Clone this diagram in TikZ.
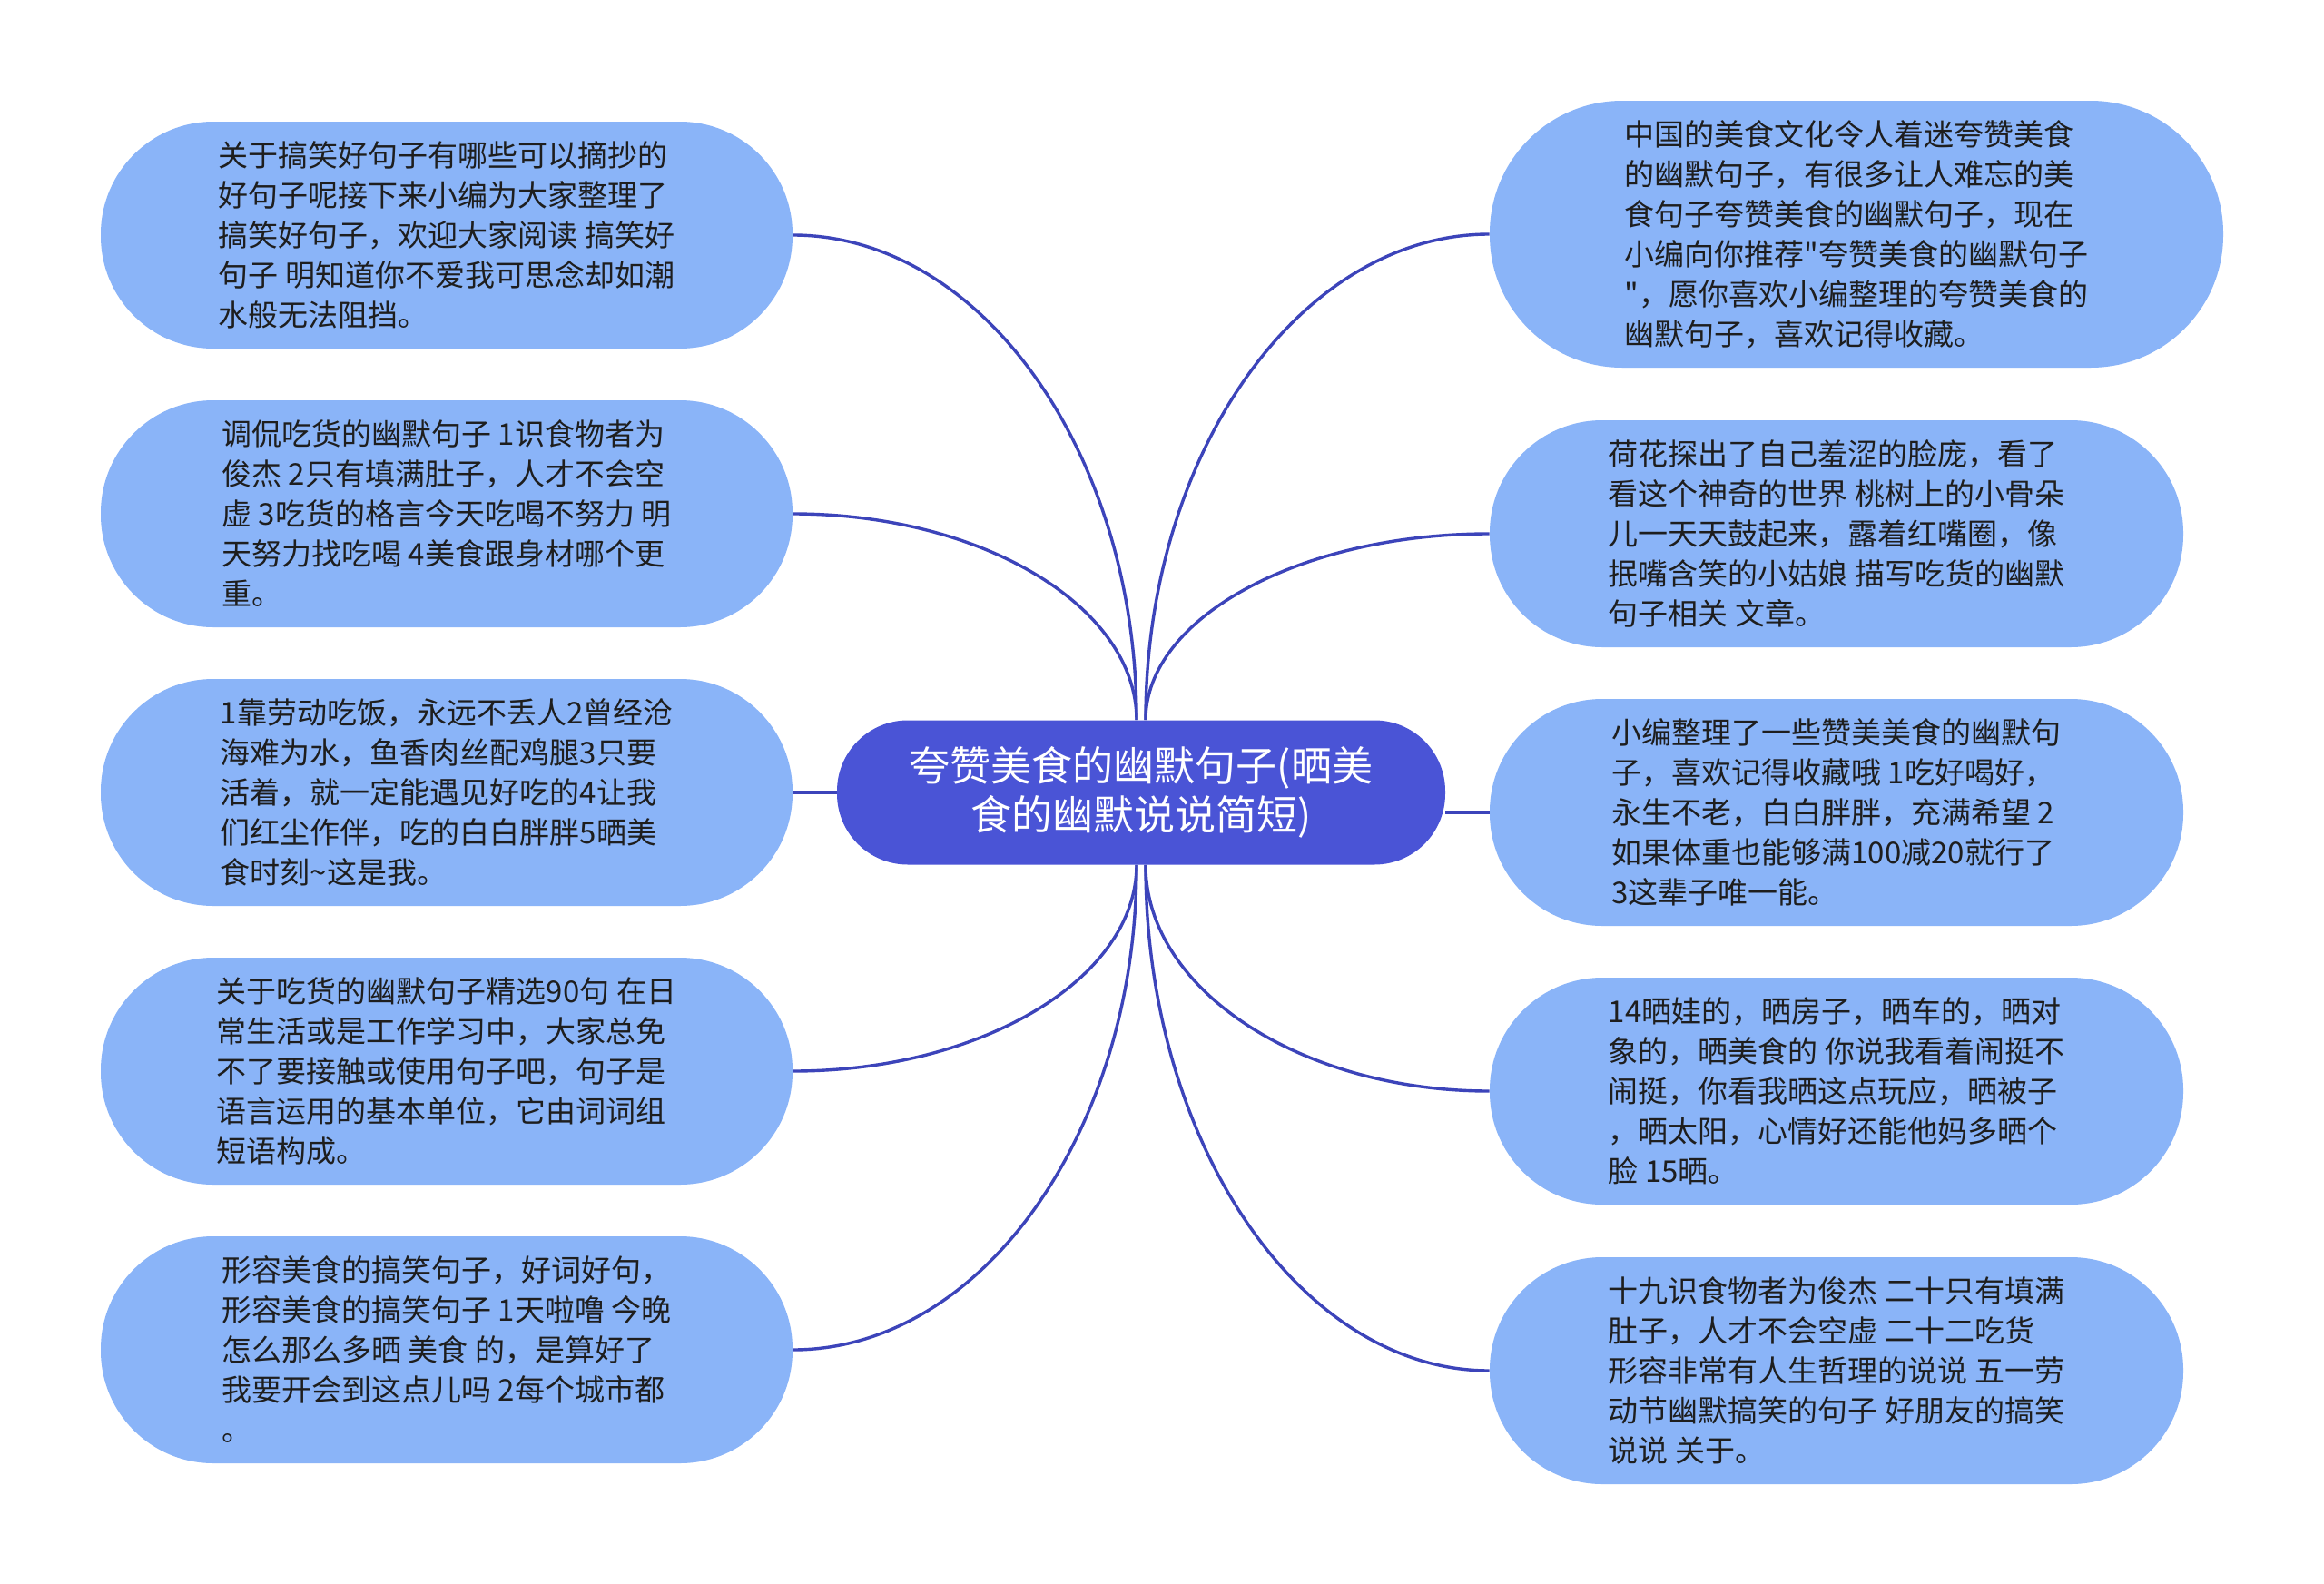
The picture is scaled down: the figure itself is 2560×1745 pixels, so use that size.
\documentclass[tikz,border=0pt]{standalone}
\usepackage{fontspec}
\setmainfont{Noto Sans CJK SC}[Ligatures=TeXOff]
\usetikzlibrary{calc}
\definecolor{leaf}{RGB}{138,180,248}
\definecolor{hub}{RGB}{74,84,214}
\definecolor{link}{RGB}{60,68,186}
\definecolor{txt}{RGB}{30,30,30}
\tikzset{
  leafnode/.style={fill=leaf, draw=none, rounded corners=62pt, minimum width=381pt,
    minimum height=125pt, align=left, text=txt, inner sep=0pt,
    font=\fontsize{16.5}{22}\selectfont},
  hubnode/.style={fill=hub, draw=none, rounded corners=39pt, minimum width=335pt,
    minimum height=79.5pt, align=center, text=white, inner sep=0pt,
    font=\fontsize{22.5}{27}\selectfont},
  linkline/.style={draw=link, line width=1.7pt}
}
\newcommand\curvelink[2]{\draw[linkline] (#1) .. controls ($(#1)!0.55!(#1|-#2)$) and ($(#2)!0.55!(#2-|#1)$) .. (#2);}
\begin{document}
\begin{tikzpicture}[x=0.5pt,y=-0.5pt]
\useasboundingbox (0,0) rectangle (2560,1745);
\fill[white] (0,0) rectangle (2560,1745);

\node[hubnode] (c) at (1257,873) {夸赞美食的幽默句子(晒美\\食的幽默说说简短)};

\node[leafnode] (L1) at (492,259) {关于搞笑好句子有哪些可以摘抄的\\好句子呢接下来小编为大家整理了\\搞笑好句子，欢迎大家阅读 搞笑好\\句子 明知道你不爱我可思念却如潮\\水般无法阻挡。};
\node[leafnode] (L2) at (492,566) {调侃吃货的幽默句子 1识食物者为\\俊杰 2只有填满肚子，人才不会空\\虚 3吃货的格言今天吃喝不努力 明\\天努力找吃喝 4美食跟身材哪个更\\重。};
\node[leafnode] (L3) at (492,873) {1靠劳动吃饭，永远不丢人2曾经沧\\海难为水，鱼香肉丝配鸡腿3只要\\活着，就一定能遇见好吃的4让我\\们红尘作伴，吃的白白胖胖5晒美\\食时刻\textasciitilde 这是我。};
\node[leafnode] (L4) at (492,1180) {关于吃货的幽默句子精选90句 在日\\常生活或是工作学习中，大家总免\\不了要接触或使用句子吧，句子是\\语言运用的基本单位，它由词词组\\短语构成。};
\node[leafnode] (L5) at (492,1487) {形容美食的搞笑句子，好词好句，\\形容美食的搞笑句子 1天啦噜 今晚\\怎么那么多晒 美食 的，是算好了\\我要开会到这点儿吗 2每个城市都\\。};

\node[leafnode, minimum width=404pt, minimum height=147pt, rounded corners=73pt] (R1) at (2045,258) {中国的美食文化令人着迷夸赞美食\\的幽默句子，有很多让人难忘的美\\食句子夸赞美食的幽默句子，现在\\小编向你推荐"夸赞美食的幽默句子\\"，愿你喜欢小编整理的夸赞美食的\\幽默句子，喜欢记得收藏。};
\node[leafnode, minimum width=382pt] (R2) at (2023,588) {荷花探出了自己羞涩的脸庞，看了\\看这个神奇的世界 桃树上的小骨朵\\儿一天天鼓起来，露着红嘴圈，像\\抿嘴含笑的小姑娘 描写吃货的幽默\\句子相关 文章。};
\node[leafnode, minimum width=382pt] (R3) at (2023,895) {小编整理了一些赞美美食的幽默句\\子，喜欢记得收藏哦 1吃好喝好，\\永生不老，白白胖胖，充满希望 2\\如果体重也能够满100减20就行了\\3这辈子唯一能。};
\node[leafnode, minimum width=382pt] (R4) at (2023,1202) {14晒娃的，晒房子，晒车的，晒对\\象的，晒美食的 你说我看着闹挺不\\闹挺，你看我晒这点玩应，晒被子\\，晒太阳，心情好还能他妈多晒个\\脸 15晒。};
\node[leafnode, minimum width=382pt] (R5) at (2023,1510) {十九识食物者为俊杰 二十只有填满\\肚子，人才不会空虚 二十二吃货\\形容非常有人生哲理的说说 五一劳\\动节幽默搞笑的句子 好朋友的搞笑\\说说 关于。};

\coordinate (tl) at ([xshift=-2.5pt]c.north);
\coordinate (tr) at ([xshift=2.5pt]c.north);
\coordinate (bl) at ([xshift=-2.5pt]c.south);
\coordinate (br) at ([xshift=2.5pt]c.south);

\curvelink{tl}{L1.east}
\curvelink{tl}{L2.east}
\curvelink{bl}{L4.east}
\curvelink{bl}{L5.east}
\curvelink{tr}{R1.west}
\curvelink{tr}{R2.west}
\curvelink{br}{R4.west}
\curvelink{br}{R5.west}
\draw[linkline] (c.west) -- (L3.east);
\draw[linkline] (R3.west -| c.east) -- (R3.west);
\end{tikzpicture}
\end{document}
